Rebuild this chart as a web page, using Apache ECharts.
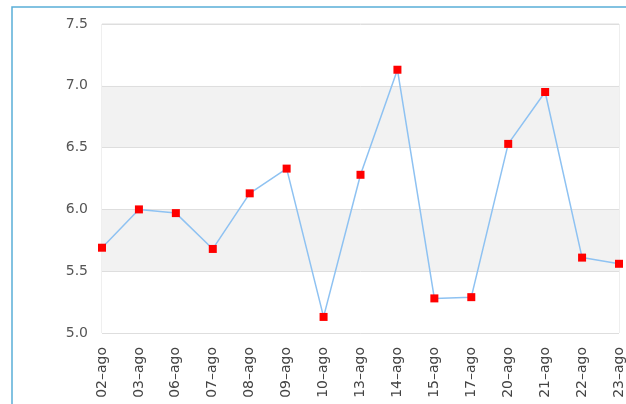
<!DOCTYPE html>
<html>
<head>
<meta charset="utf-8">
<script src="https://cdn.jsdelivr.net/npm/echarts@6/dist/echarts.min.js"></script>
<style>
  html, body { margin: 0; padding: 0; background: #fff; }
  #chart { width: 626px; height: 404px; }
</style>
</head>
<body>
<div id="chart"></div>
<script>
// --- data ---
const days = ['02–ago', '03–ago', '06–ago', '07–ago', '08–ago', '09–ago', '10–ago', '13–ago',
  '14–ago', '15–ago', '17–ago', '20–ago', '21–ago', '22–ago', '23–ago']
const values = [5.69, 6.00, 5.97, 5.68, 6.13, 6.33, 5.13, 6.28, 7.13, 5.28, 5.29, 6.53, 6.95, 5.61, 5.56]
const yMin = 5.0
const yMax = 7.5
const yStep = 0.5

const chart = echarts.init(document.getElementById('chart'), null, { renderer: 'canvas' })

const option = {
  animation: false,
  backgroundColor: '#fff',
  graphic: [
    {
      type: 'rect',
      shape: { x: 12, y: 7, width: 640, height: 420 },
      style: { fill: 'none', stroke: '#5aaed8', lineWidth: 1.5 },
      silent: true,
    },
  ],
  grid: {
    left: 102,
    right: 7,
    top: 24,
    bottom: 71,
    show: true,
    borderColor: '#dedede',
    borderWidth: 1,
    containLabel: false,
  },
  xAxis: {
    type: 'category',
    data: days,
    boundaryGap: false,
    axisLine: { show: false },
    axisTick: { show: false },
    axisLabel: {
      rotate: 90,
      margin: 14,
      color: '#444',
      fontSize: 14,
      fontFamily: 'DejaVu Sans',
      interval: 0,
    },
    splitLine: { show: false },
  },
  yAxis: {
    type: 'value',
    min: yMin,
    max: yMax,
    interval: yStep,
    axisLine: { show: false },
    axisTick: { show: false },
    axisLabel: {
      color: '#555',
      fontSize: 14,
      fontFamily: 'DejaVu Sans',
      margin: 14,
      formatter: (v) => v.toFixed(1),
    },
    splitLine: { show: true, lineStyle: { color: '#dedede', width: 1 } },
    splitArea: { show: true, areaStyle: { color: ['#ffffff', '#f2f2f2'] } },
  },
  series: [
    {
      type: 'line',
      data: values,
      symbol: 'rect',
      symbolSize: 8,
      itemStyle: { color: '#ff0000' },
      lineStyle: { color: '#8ec2f2', width: 1.5 },
      clip: false,
    },
  ],
}

chart.setOption(option)
</script>
</body>
</html>
